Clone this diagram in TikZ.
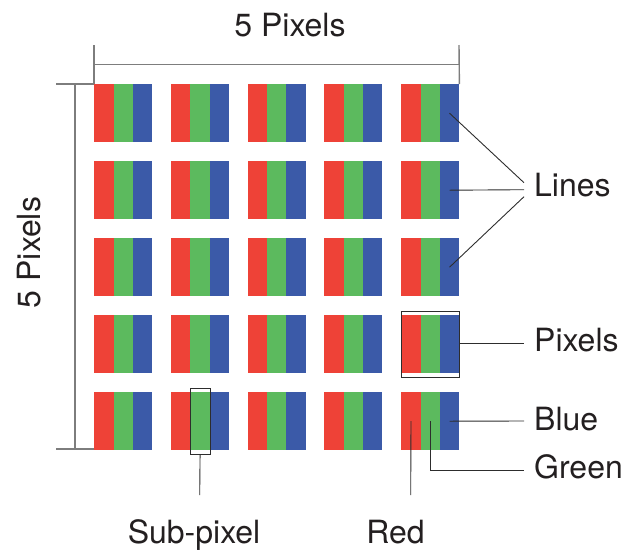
\documentclass[tikz,border=0pt]{standalone}
\usepackage{fontspec}
\setmainfont{TeX Gyre Heros}
\usetikzlibrary{calc}
\definecolor{spred}{RGB}{238,66,55}
\definecolor{spgreen}{RGB}{92,186,94}
\definecolor{spblue}{RGB}{59,90,168}
\definecolor{dimgray}{RGB}{125,125,125}
\definecolor{leadgray}{RGB}{45,45,45}
\definecolor{txt}{RGB}{35,31,32}
\begin{document}
\begin{tikzpicture}[x=1pt,y=-1pt,
  sub/.style={inner sep=0pt, minimum width=19.6pt, minimum height=58pt, draw=none, anchor=north west},
  dimline/.style={draw=dimgray, line width=1.4pt},
  leader/.style={draw=leadgray, line width=0.9pt},
  frame/.style={draw=leadgray, line width=1.1pt, inner sep=0pt},
  lbl/.style={inner sep=0pt, font=\fontsize{32}{36}\selectfont, text=txt}]
\useasboundingbox (0,0) rectangle (624,550);
% pixel grid
\foreach \j in {1,...,5} {
  \foreach \i in {1,...,5} {
    \pgfmathsetmacro\px{94+76.75*(\i-1)}
    \pgfmathsetmacro\py{84+77*(\j-1)}
    \node[sub, fill=spred] (r\j\i) at (\px,\py) {};
    \node[sub, fill=spgreen] (g\j\i) at (\px+19.33,\py) {};
    \node[sub, fill=spblue, minimum width=19.33pt] (b\j\i) at (\px+38.67,\py) {};
  }
}
% labels
\node[lbl, anchor=base] (top) at (290,36) {5 Pixels};
\node[lbl, anchor=base, rotate=90] (left) at (40.7,252.5) {5 Pixels};
\node[lbl, anchor=base west] (lines) at (534,196.7) {Lines};
\node[lbl, anchor=base west] (pixels) at (534,351.7) {Pixels};
\node[lbl, anchor=base west] (blue) at (534,430) {Blue};
\node[lbl, anchor=base west] (green) at (534,478) {Green};
\node[lbl, anchor=base] (subpix) at (194,543.3) {Sub-pixel};
\node[lbl, anchor=base] (red) at (395.5,543.3) {Red};
% dimension lines
\coordinate (hTL) at (94,45);
\coordinate (hTR) at (459,45);
\coordinate (hL) at (94,64.7);
\coordinate (hR) at (459,64.7);
\coordinate (vT) at (75,84);
\coordinate (vB) at (75,449);
\coordinate (vTL) at (56,84);
\coordinate (vBL) at (56,449);
\coordinate (vBR) at (94,449);
\draw[dimline] (hTL) -- (r11.north west);
\draw[dimline] (hTR) -- (b15.north east);
\draw[dimline] (hL) -- (hR);
\draw[dimline] (vTL) -- (r11.north west);
\draw[dimline] (vBL) -- (vBR);
\draw[dimline] (vT) -- (vB);
% leaders: lines
\coordinate (lA) at (524,182.7);
\coordinate (lB) at (524,189.7);
\coordinate (lC) at (524,196.7);
\draw[leader] (b15.center) -- (lA);
\draw[leader] (b25.center) -- (lB);
\draw[leader] (b35.center) -- (lC);
% pixel frame
\node[frame, minimum width=58pt, minimum height=65.7pt] (pxbox) at (g45.center) {};
\coordinate (lP) at (524,343);
\draw[leader] (pxbox.east |- lP) -- (lP);
% blue, green, red
\coordinate (lBl) at (524,421);
\draw[leader] (b55.center) -- (lBl);
\coordinate (lG) at (524,470);
\draw[leader] (g55.center) |- (lG);
\coordinate (lR) at (410.7,495);
\draw[leader] (r55.center) -- (lR);
% sub-pixel frame
\node[frame, minimum width=20pt, minimum height=66pt] (sbox) at (g52.center) {};
\coordinate (lS) at (199.7,495);
\draw[leader] (sbox.south) -- (lS);
\end{tikzpicture}
\end{document}
